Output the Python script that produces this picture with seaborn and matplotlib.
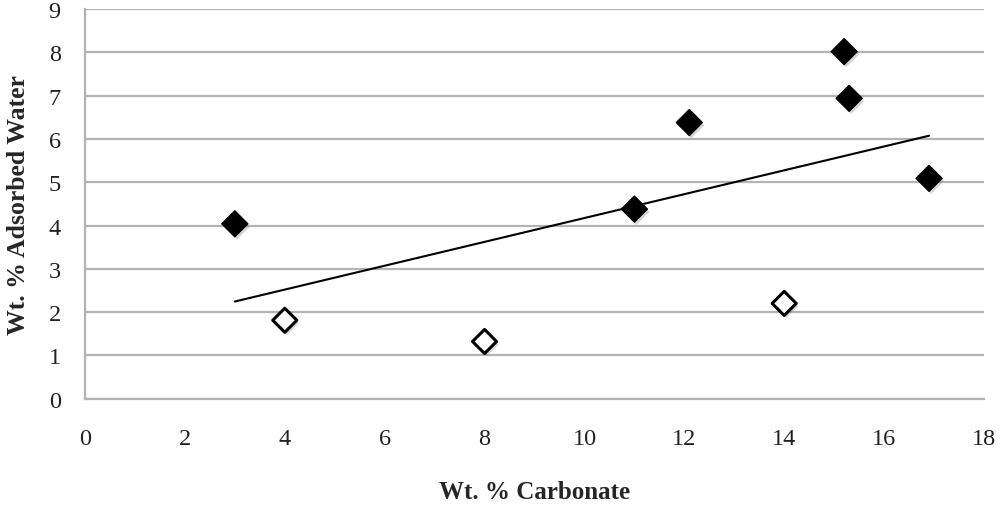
import matplotlib
matplotlib.use("Agg")
import matplotlib.pyplot as plt
import matplotlib.patheffects as pe
import numpy as np
import pandas as pd
import seaborn as sns

# values
carbonate_filled = [3.0, 11.0, 12.1, 15.2, 15.3, 16.9]
water_filled = [4.04, 4.38, 6.38, 8.02, 6.94, 5.09]
carbonate_open = [4.0, 8.0, 14.0]
water_open = [1.81, 1.32, 2.20]
x_ticks = [0, 2, 4, 6, 8, 10, 12, 14, 16, 18]
y_ticks = [0, 1, 2, 3, 4, 5, 6, 7, 8, 9]

sns.set_theme(style="white")
plt.rcParams["font.family"] = ["Liberation Serif", "DejaVu Serif"]

filled = pd.DataFrame({"x": carbonate_filled, "y": water_filled})
opened = pd.DataFrame({"x": carbonate_open, "y": water_open})
all_pts = pd.concat([filled, opened], ignore_index=True)

fig = plt.figure(figsize=(10, 5.1), dpi=100)
ax = fig.add_axes([0.085, 0.2165, 0.899, 0.7635])

grid_c = "#b3b3b3"
ax.set_xlim(0, 18)
ax.set_ylim(0, 9)
ax.set_xticks(x_ticks)
ax.set_yticks(y_ticks)
ax.yaxis.grid(True, color=grid_c, linewidth=1.6)
ax.xaxis.grid(False)
ax.set_axisbelow(True)
for side in ["top", "right"]:
    ax.spines[side].set_visible(False)
for side in ["left", "bottom"]:
    ax.spines[side].set_color(grid_c)
    ax.spines[side].set_linewidth(1.6)
ax.tick_params(axis="both", which="major", labelsize=17.5, labelcolor="#222222",
               width=1.4, color=grid_c)
ax.tick_params(axis="y", length=6.5, pad=11)
ax.tick_params(axis="x", length=5, pad=16)

# linear trend through all samples
slope, intercept = np.polyfit(all_pts["x"], all_pts["y"], 1)
fit = pd.DataFrame({"x": [all_pts["x"].min(), all_pts["x"].max()]})
fit["y"] = slope * fit["x"] + intercept
sns.lineplot(data=fit, x="x", y="y", ax=ax, color="black", linewidth=1.5)

shadow = [pe.SimplePatchShadow(offset=(1.5, -2), shadow_rgbFace="#888888", alpha=0.35), pe.Normal()]
sns.scatterplot(data=filled, x="x", y="y", ax=ax, marker="D", s=175,
                color="black", edgecolor="black", linewidth=1, zorder=3)
sns.scatterplot(data=opened, x="x", y="y", ax=ax, marker="D", s=150,
                facecolor="white", edgecolor="black", linewidth=2.2, zorder=3)
for coll in ax.collections:
    coll.set_path_effects(shadow)

ax.set_xlabel("Wt. % Carbonate", fontsize=18, fontweight="bold")
ax.set_ylabel("Wt. % Adsorbed Water", fontsize=18.5, fontweight="bold")
ax.xaxis.set_label_coords(0.5, -0.208)
ax.yaxis.set_label_coords(-0.061, 0.5)

fig.savefig("out.png", dpi=100)
